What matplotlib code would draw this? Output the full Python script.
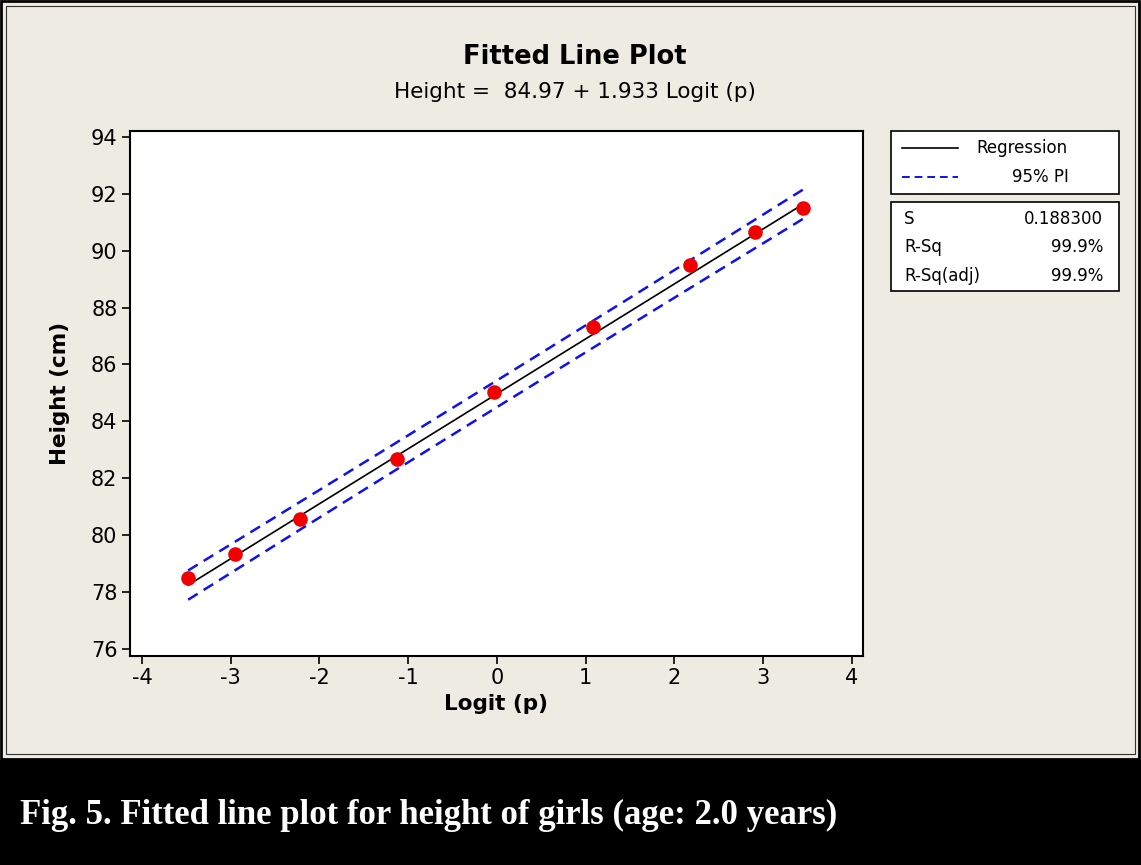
import numpy as np
import matplotlib
matplotlib.use("Agg")
import matplotlib.pyplot as plt
from matplotlib.patches import Rectangle
from matplotlib.lines import Line2D

# data
logit_p = [-3.48, -2.95, -2.22, -1.13, -0.03, 1.08, 2.17, 2.91, 3.45]
height = [78.49, 79.34, 80.57, 82.68, 85.03, 87.32, 89.50, 90.66, 91.52]

intercept = 84.97
slope = 1.933
s_value = 0.1883
x_ticks = [-4, -3, -2, -1, 0, 1, 2, 3, 4]
y_ticks = [76, 78, 80, 82, 84, 86, 88, 90, 92, 94]

stats_names = ["S", "R-Sq", "R-Sq(adj)"]
stats_values = ["0.188300", "99.9%", "99.9%"]

W, H = 1141, 865
BG = "#EEEBE2"
BLUE = "#1010F0"


def fx(x):
    return x / W


def fy(y):
    return 1 - y / H


fig = plt.figure(figsize=(W / 100, H / 100), dpi=100)
fig.patch.set_facecolor(BG)
plt.rcParams['font.family'] = ['DejaVu Sans']

# black caption band and panel border
fig.patches.append(Rectangle((0, 0), 1, fy(760), transform=fig.transFigure,
                             facecolor="black", edgecolor="none", zorder=0))
fig.patches.append(Rectangle((fx(1), fy(759)), fx(1138), 758 / H, transform=fig.transFigure,
                             facecolor="none", edgecolor="black", lw=2, zorder=1))
fig.patches.append(Rectangle((fx(5.5), fy(754)), fx(1129), 748 / H, transform=fig.transFigure,
                             facecolor="none", edgecolor="#333333", lw=0.8, zorder=1))

ax = fig.add_axes([fx(130), fy(656), fx(733), 525 / H])
ax.set_facecolor("white")

# regression line and 95% prediction interval
x = np.array(logit_p)
y = np.array(height)
n = len(x)
xs = np.sort(x)
fit = intercept + slope * xs
sxx = np.sum((x - x.mean()) ** 2)
t_val = 2.3646
half = t_val * s_value * np.sqrt(1 + 1 / n + (xs - x.mean()) ** 2 / sxx)

ax.plot(xs, fit, color="black", lw=1.2, zorder=2)
ax.plot(xs, fit + half, color=BLUE, lw=1.8, ls=(0, (4.5, 2.8)), zorder=2)
ax.plot(xs, fit - half, color=BLUE, lw=1.8, ls=(0, (4.5, 2.8)), zorder=2)
ax.plot(x, y, 'o', color="#F00000", markersize=10.5, markeredgewidth=0, zorder=3)

ax.set_xlim(-4.135, 4.124)
ax.set_ylim(75.75, 94.21)
ax.set_xticks(x_ticks)
ax.set_yticks(y_ticks)
ax.set_xticklabels([str(v) for v in x_ticks])
ax.tick_params(direction="out", length=6, width=1.2, labelsize=15, pad=3)
for sp in ax.spines.values():
    sp.set_linewidth(1.5)

ax.set_xlabel("Logit (p)", fontsize=15.5, fontweight="bold", labelpad=4)
ax.set_ylabel("Height (cm)", fontsize=15.5, fontweight="bold", labelpad=15)

fig.text(fx(575), fy(57), "Fitted Line Plot", fontsize=18.5, fontweight="bold",
         ha="center", va="center")
fig.text(fx(575), fy(92), "Height =  84.97 + 1.933 Logit (p)", fontsize=15.5,
         ha="center", va="center")

# legend boxes
fig.patches.append(Rectangle((fx(891), fy(194)), fx(228), 63 / H, transform=fig.transFigure,
                             facecolor="white", edgecolor="black", lw=1.2))
fig.patches.append(Rectangle((fx(891), fy(291)), fx(228), 89 / H, transform=fig.transFigure,
                             facecolor="white", edgecolor="black", lw=1.2))
fig.lines.append(Line2D([fx(902), fx(958)], [fy(148), fy(148)], transform=fig.transFigure,
                        color="black", lw=1.2))
fig.lines.append(Line2D([fx(902), fx(958)], [fy(177), fy(177)], transform=fig.transFigure,
                        color=BLUE, lw=1.4, ls=(0, (4, 2.5))))
fig.text(fx(976), fy(148), "Regression", fontsize=12, va="center", ha="left")
fig.text(fx(1069), fy(177), "95% PI", fontsize=12, va="center", ha="right")
for i, (name, val) in enumerate(zip(stats_names, stats_values)):
    yy = fy(219 + i * 28.5)
    fig.text(fx(904), yy, name, fontsize=12, va="center", ha="left")
    fig.text(fx(1103), yy, val, fontsize=12, va="center", ha="right")

fig.text(fx(20), fy(815), "Fig. 5. Fitted line plot for height of girls (age: 2.0 years)",
         color="white", fontsize=25, fontweight="bold", va="center", ha="left",
         family=["Liberation Serif", "DejaVu Serif"])

fig.savefig("out.png", dpi=100, facecolor=fig.get_facecolor())
